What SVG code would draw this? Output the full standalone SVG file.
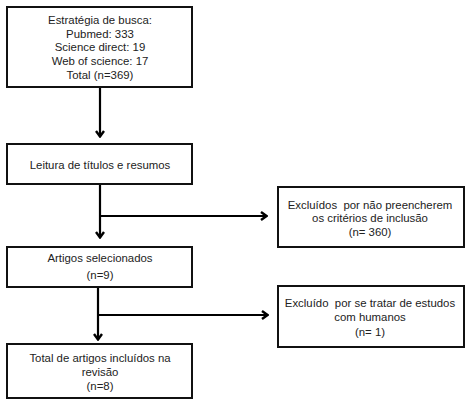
<svg xmlns="http://www.w3.org/2000/svg" width="474" height="404" viewBox="0 0 474 404">
<style>
.box{fill:#fff;stroke:#111;stroke-width:2}
.t{font-family:"Liberation Sans",Arial,sans-serif;font-size:11.4px;fill:#222;text-anchor:middle;white-space:pre}
.c{fill:none;stroke:#000;stroke-width:2.2}
</style>
<defs>
<marker id="ah" viewBox="0 0 10 10" refX="9" refY="5" markerWidth="10" markerHeight="10" markerUnits="userSpaceOnUse" orient="auto">
<path d="M3,1 L8.5,5 L3,9" fill="none" stroke="#000" stroke-width="2.4"/>
</marker>
</defs>
<rect width="474" height="404" fill="#fff"/>
<g id="connectors">
<path class="c" d="M100,88 V137" marker-end="url(#ah)"/>
<path class="c" d="M100,185 V238" marker-end="url(#ah)"/>
<path class="c" d="M100,216 H267" marker-end="url(#ah)"/>
<path class="c" d="M98,288 V340" marker-end="url(#ah)"/>
<path class="c" d="M98,315 H268" marker-end="url(#ah)"/>
</g>
<g id="n1">
<rect class="box" x="7" y="7" width="185" height="80"/>
<text class="t" x="100" y="24">Estratégia de busca:</text>
<text class="t" x="100" y="37.5">Pubmed: 333</text>
<text class="t" x="100" y="51">Science direct: 19</text>
<text class="t" x="100" y="65">Web of science: 17</text>
<text class="t" x="100" y="79">Total (n=369)</text>
</g>
<g id="n2">
<rect class="box" x="7" y="144" width="185" height="40"/>
<text class="t" x="100" y="169">Leitura de títulos e resumos</text>
</g>
<g id="n3">
<rect class="box" x="7" y="247" width="185" height="40"/>
<text class="t" x="100" y="262">Artigos selecionados</text>
<text class="t" x="100" y="279">(n=9)</text>
</g>
<g id="n4">
<rect class="box" x="7" y="344" width="185" height="54"/>
<text class="t" x="100" y="362">Total de artigos incluídos na</text>
<text class="t" x="100" y="376">revisão</text>
<text class="t" x="100" y="390">(n=8)</text>
</g>
<g id="n5">
<rect class="box" x="278" y="187" width="186" height="60"/>
<text class="t" x="370" y="209" xml:space="preserve">Excluídos  por não preencherem</text>
<text class="t" x="370" y="221.5">os critérios de inclusão</text>
<text class="t" x="370" y="236">(n= 360)</text>
</g>
<g id="n6">
<rect class="box" x="278" y="286" width="186" height="61"/>
<text class="t" x="370" y="307" xml:space="preserve">Excluído  por se tratar de estudos</text>
<text class="t" x="370" y="321">com humanos</text>
<text class="t" x="370" y="336">(n= 1)</text>
</g>
</svg>
